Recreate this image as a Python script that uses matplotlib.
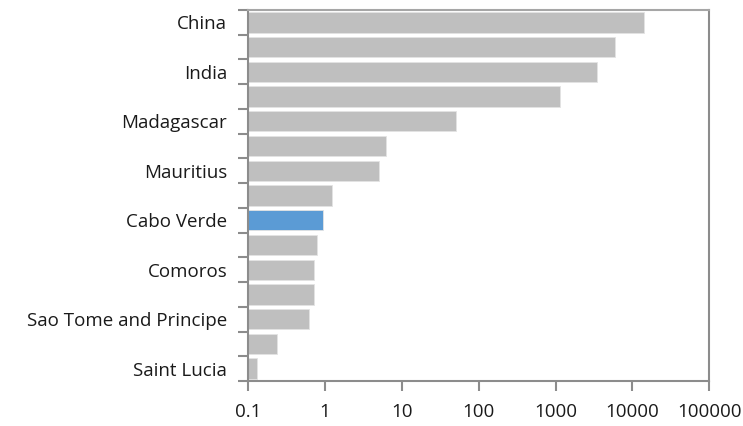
import matplotlib
matplotlib.use("Agg")
import matplotlib.pyplot as plt
from matplotlib.ticker import FixedLocator, NullLocator, FuncFormatter
import numpy as np

# countries ranked by value; only every other one carries a name on the axis
countries = ["China", "", "India", "", "Madagascar", "", "Mauritius", "",
             "Cabo Verde", "", "Comoros", "", "Sao Tome and Principe", "",
             "Saint Lucia"]
values = [14300, 5950, 3470, 1137, 50, 6.2, 5.1, 1.25,
          0.95, 0.80, 0.73, 0.72, 0.63, 0.235, 0.131]
highlight = "Cabo Verde"
x_ticks = [0.1, 1, 10, 100, 1000, 10000, 100000]

plt.rcParams['font.family'] = ['Open Sans', 'DejaVu Sans']

grey = "#bfbfbf"
blue = "#5b9bd5"
axis_col = "#8c8c8c"

fig = plt.figure(figsize=(7.43, 4.26), dpi=100)
ax = fig.add_axes([248 / 743, 1 - 381 / 426, (709.3 - 248) / 743, (381 - 10) / 426])

pos = np.arange(len(values))
colors = [blue if c == highlight else grey for c in countries]
ax.barh(pos, values, height=0.82, left=0, color=colors,
        edgecolor="#e3e3e3", linewidth=0.6, zorder=2)

ax.set_xscale("log")
ax.set_xlim(0.1, 100000)
ax.set_ylim(len(values) - 0.5, -0.5)

ax.xaxis.set_major_locator(FixedLocator(x_ticks))
ax.xaxis.set_minor_locator(NullLocator())
ax.xaxis.set_major_formatter(FuncFormatter(lambda v, _: f"{v:g}" if v < 1 else f"{int(v)}"))

# category labels sit at bar centres, tick marks at category boundaries
ax.set_yticks(pos[::2])
ax.set_yticklabels(countries[::2])
ax.set_yticks(np.arange(-0.5, len(values)), minor=True)
ax.tick_params(axis="y", which="major", length=0, pad=15, labelsize=13.5, colors="#1a1a1a")
ax.tick_params(axis="y", which="minor", length=7, width=1.5, color=axis_col, direction="out")
ax.tick_params(axis="x", which="major", length=7, width=1.5, color=axis_col,
               labelsize=13.5, labelcolor="#1a1a1a", pad=9)

for side in ["left", "bottom", "right", "top"]:
    ax.spines[side].set_color(axis_col)
    ax.spines[side].set_linewidth(1.5)
ax.spines["top"].set_color("#a6a6a6")

fig.savefig("out.png", dpi=100)
